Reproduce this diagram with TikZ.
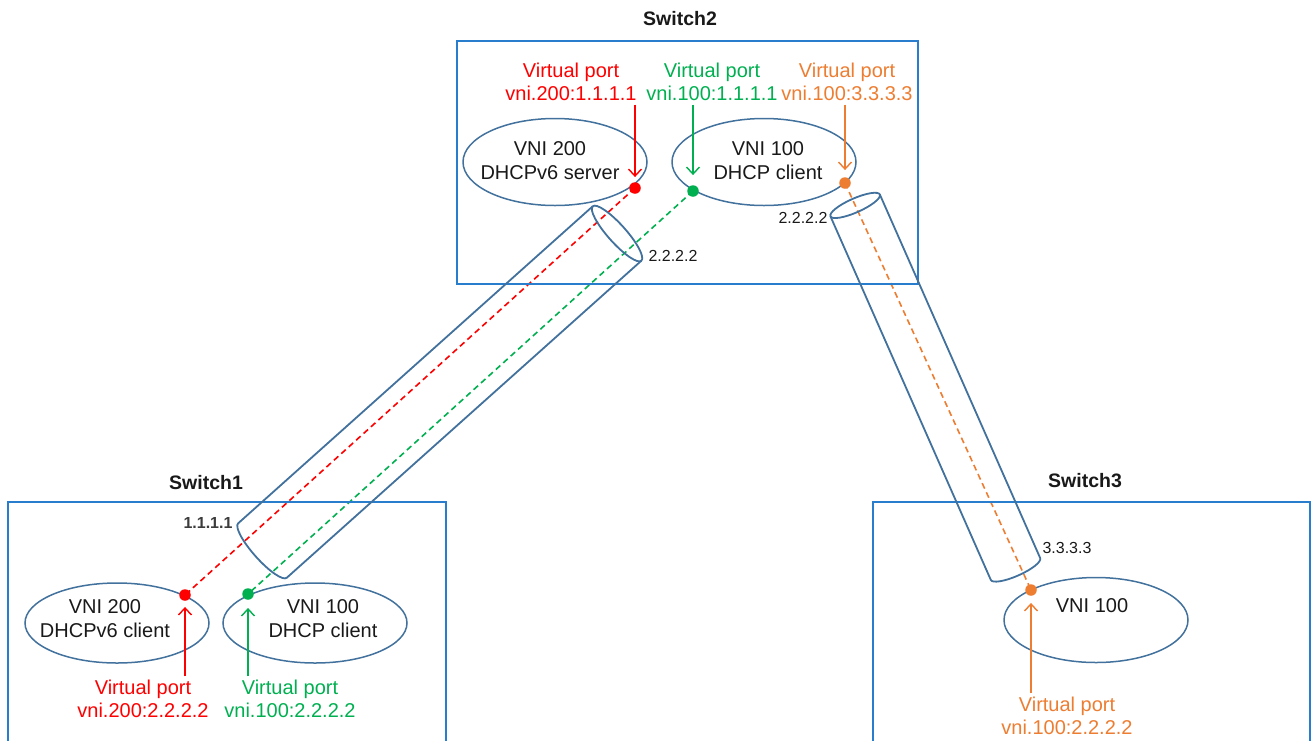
\documentclass[tikz,border=0pt]{standalone}
\usepackage{fontspec}
\setmainfont{Liberation Sans}
\usetikzlibrary{arrows.meta,shapes.geometric,backgrounds}

\definecolor{boxblue}{RGB}{40,125,205}
\definecolor{shapeblue}{RGB}{65,113,156}
\definecolor{portred}{RGB}{255,0,0}
\definecolor{portgreen}{RGB}{0,176,80}
\definecolor{portorange}{RGB}{237,125,49}
\definecolor{ink}{RGB}{25,25,25}
\definecolor{inkgray}{RGB}{60,60,60}

\begin{document}
\begin{tikzpicture}[x=1pt,y=-1pt,
  switchbox/.style={draw=boxblue,line width=1.6pt},
  switchtitle/.style={font=\fontsize{19.5}{23}\selectfont\bfseries,text=ink,inner sep=0pt},
  vni/.style={ellipse,draw=shapeblue,line width=1.5pt,minimum width=184pt,minimum height=#1,inner sep=0pt},
  vnitext/.style={align=center,font=\fontsize{20}{24}\selectfont,text=ink,inner sep=0pt},
  portlabel/.style={align=center,font=\fontsize{20}{23}\selectfont,text=#1,inner sep=3.5pt},
  portdot/.style={circle,fill=#1,inner sep=0pt,minimum size=11.5pt},
  portarrow/.style={draw=#1,line width=1.4pt,-{Straight Barb[length=7pt,width=13pt]}},
  tunnelpath/.style={draw=#1,line width=1.6pt,dash pattern=on 6pt off 4pt},
  tube/.style={draw=shapeblue,line width=1.8pt},
  ipaddr/.style={font=\fontsize{16}{19}\selectfont,text=ink,inner sep=0pt},
]
\useasboundingbox (0,0) rectangle (1311,740);
\clip (0,0) rectangle (1311,740);

% switch frames and titles
\draw[switchbox] (457,41) rectangle (918,284);
\draw[switchbox] (8,502) rectangle (446,760);
\draw[switchbox] (873,502) rectangle (1310,760);
\node[switchtitle] (t2) at (680,19) {Switch2};
\node[switchtitle] (t1) at (206,483) {Switch1};
\node[switchtitle] (t3) at (1085,481) {Switch3};

% VNI instances
\node[vni=87pt] (s2a) at (555,162) {};
\node[vni=87pt] (s2b) at (764,162) {};
\node[vni=80pt] (s1a) at (117,623) {};
\node[vni=80pt] (s1b) at (315,623) {};
\node[vni=85pt] (s3a) at (1096,620) {};
\node[vnitext] (s2aT) at (550,161) {VNI 200\\DHCPv6 server};
\node[vnitext] (s2bT) at (768,161) {VNI 100\\DHCP client};
\node[vnitext] (s1aT) at (105,619) {VNI 200\\DHCPv6 client};
\node[vnitext] (s1bT) at (323,619) {VNI 100\\DHCP client};
\node[vnitext] (s3aT) at (1092,606) {VNI 100};

% tunnel Switch1 -- Switch2
\begin{scope}[shift={(262.5,550.5)},rotate=41.8]
  \draw[tube] (475.6pt,36.5pt) -- (0pt,36.5pt)
    arc[start angle=90,end angle=270,x radius=9pt,y radius=36.5pt]
    -- (475.6pt,-36.5pt);
  \draw[tube] (475.6pt,0pt) ellipse[x radius=9pt,y radius=36.5pt];
\end{scope}

% tunnel Switch2 -- Switch3
\begin{scope}[shift={(1015.5,569)},rotate=113.8]
  \draw[tube] (397.4pt,27pt) -- (0pt,27pt)
    arc[start angle=90,end angle=270,x radius=7pt,y radius=27pt]
    -- (397.4pt,-27pt);
  \draw[tube] (397.4pt,0pt) ellipse[x radius=7pt,y radius=27pt];
\end{scope}

% tunnel end addresses
\node[ipaddr] (ip1) at (673,256) {2.2.2.2};
\node[ipaddr] (ip2) at (803,218) {2.2.2.2};
\node[ipaddr,font=\fontsize{16}{19}\selectfont\bfseries,text=inkgray] (ip3) at (208,523) {1.1.1.1};
\node[ipaddr] (ip4) at (1067,548) {3.3.3.3};

% virtual ports
\node[portdot=portred] (p2r) at (635,188) {};
\node[portdot=portgreen] (p2g) at (693,191) {};
\node[portdot=portorange] (p2o) at (845,183) {};
\node[portdot=portred] (p1r) at (185,595) {};
\node[portdot=portgreen] (p1g) at (248,594) {};
\node[portdot=portorange] (p3o) at (1031,590) {};

% paths through the tunnels
\begin{scope}[on background layer]
  \draw[tunnelpath=portred] (p2r.center) -- (p1r.center);
  \draw[tunnelpath=portgreen] (p2g.center) -- (p1g.center);
  \draw[tunnelpath=portorange] (p2o.center) -- (p3o.center);
\end{scope}

% port labels
\node[portlabel=portred] (l2r) at (571,82) {Virtual port\\vni.200:1.1.1.1};
\node[portlabel=portgreen] (l2g) at (712,82) {Virtual port\\vni.100:1.1.1.1};
\node[portlabel=portorange] (l2o) at (847,82) {Virtual port\\vni.100:3.3.3.3};
\node[portlabel=portred] (l1r) at (143,699) {Virtual port\\vni.200:2.2.2.2};
\node[portlabel=portgreen] (l1g) at (290,699) {Virtual port\\vni.100:2.2.2.2};
\node[portlabel=portorange] (l3o) at (1067,716) {Virtual port\\vni.100:2.2.2.2};

\draw[portarrow=portred,shorten >=5pt] (l2r.south -| p2r) -- (p2r.north);
\draw[portarrow=portgreen,shorten >=10pt] (l2g.south -| p2g) -- (p2g.north);
\draw[portarrow=portorange,shorten >=7pt] (l2o.south -| p2o) -- (p2o.north);
\draw[portarrow=portred,shorten >=6pt] (l1r.north -| p1r) -- (p1r.south);
\draw[portarrow=portgreen,shorten >=8pt] (l1g.north -| p1g) -- (p1g.south);
\draw[portarrow=portorange,shorten >=7pt] (l3o.north -| p3o) -- (p3o.south);
\end{tikzpicture}
\end{document}
